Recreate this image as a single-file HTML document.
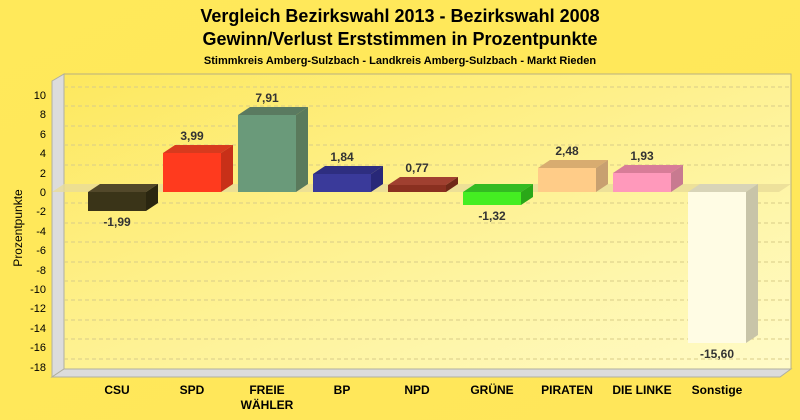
<!DOCTYPE html>
<html><head><meta charset="utf-8"><style>
body{margin:0;background:#ffe95a}
svg{display:block;font-family:"Liberation Sans",Arial,sans-serif}
</style></head><body>
<svg width="800" height="420" viewBox="0 0 800 420">
<defs>
<linearGradient id="bg" x1="0" y1="0" x2="1" y2="1">
<stop offset="0" stop-color="#ffe95a"/><stop offset="1" stop-color="#ffe65a"/></linearGradient>
<linearGradient id="wall" x1="0" y1="0" x2="1" y2="1">
<stop offset="0" stop-color="#fde85e"/><stop offset="1" stop-color="#fffbc8"/></linearGradient>
</defs>
<rect width="800" height="420" fill="url(#bg)"/>
<text x="400" y="22" text-anchor="middle" font-size="18" font-weight="bold">Vergleich Bezirkswahl 2013 - Bezirkswahl 2008</text>
<text x="400" y="45" text-anchor="middle" font-size="18" font-weight="bold">Gewinn/Verlust Erststimmen in Prozentpunkte</text>
<text x="400" y="64" text-anchor="middle" font-size="11" font-weight="bold">Stimmkreis Amberg-Sulzbach - Landkreis Amberg-Sulzbach - Markt Rieden</text>
<rect x="64" y="74" width="727" height="295" fill="url(#wall)" stroke="#b8b080" stroke-width="1"/>
<polygon points="52,81 64,74 64,369 52,377" fill="#dcdcdc" stroke="#b0b0a0"/>
<polygon points="52,377 780,377 791,369 64,369" fill="#dcdcdc" stroke="#b0b0a0"/>
<g stroke="#d8cc88" stroke-dasharray="4,3" stroke-width="1">
<line x1="64" y1="87" x2="791" y2="87"/><line x1="64" y1="106" x2="791" y2="106"/>
<line x1="64" y1="126" x2="791" y2="126"/><line x1="64" y1="145" x2="791" y2="145"/>
<line x1="64" y1="165" x2="791" y2="165"/>
<line x1="64" y1="203" x2="791" y2="203"/><line x1="64" y1="223" x2="791" y2="223"/>
<line x1="64" y1="242" x2="791" y2="242"/><line x1="64" y1="262" x2="791" y2="262"/>
<line x1="64" y1="281" x2="791" y2="281"/><line x1="64" y1="300" x2="791" y2="300"/>
<line x1="64" y1="320" x2="791" y2="320"/><line x1="64" y1="339" x2="791" y2="339"/>
<line x1="64" y1="359" x2="791" y2="359"/>
</g>
<polygon points="52,192 64,184 791,184 779,192" fill="#e8dc98" opacity="0.8"/>
<g font-size="11" text-anchor="end">
<text x="46" y="99">10</text><text x="46" y="118">8</text><text x="46" y="138">6</text>
<text x="46" y="157">4</text><text x="46" y="177">2</text><text x="46" y="196">0</text>
<text x="46" y="215">-2</text><text x="46" y="235">-4</text><text x="46" y="254">-6</text>
<text x="46" y="274">-8</text><text x="46" y="293">-10</text><text x="46" y="312">-12</text>
<text x="46" y="332">-14</text><text x="46" y="351">-16</text><text x="46" y="371">-18</text>
</g>
<text transform="translate(22,228) rotate(-90)" text-anchor="middle" font-size="12">Prozentpunkte</text>
<!-- bars: x, top, bottom, color -->
<g stroke-width="0.5">
<!-- CSU -->
<polygon points="88,192 100,184 158,184 146,192" fill="#52482a"/>
<polygon points="146,192 158,184 158,203 146,211" fill="#2a2610"/>
<rect x="88" y="192" width="58" height="19" fill="#3a3418"/>
<!-- SPD -->
<polygon points="163,153 175,145 233,145 221,153" fill="#d83a1e"/>
<polygon points="221,153 233,145 233,184 221,192" fill="#c83018"/>
<rect x="163" y="153" width="58" height="39" fill="#ff3a1e"/>
<!-- FREIE -->
<polygon points="238,115 250,107 308,107 296,115" fill="#5a7a60"/>
<polygon points="296,115 308,107 308,184 296,192" fill="#5a7a5c"/>
<rect x="238" y="115" width="58" height="77" fill="#6a9a7a"/>
<!-- BP -->
<polygon points="313,174 325,166 383,166 371,174" fill="#2e2e80"/>
<polygon points="371,174 383,166 383,184 371,192" fill="#282878"/>
<rect x="313" y="174" width="58" height="18" fill="#3a3a9a"/>
<!-- NPD -->
<polygon points="388,185 400,177 458,177 446,185" fill="#a04030"/>
<polygon points="446,185 458,177 458,184 446,192" fill="#702818"/>
<rect x="388" y="185" width="58" height="7" fill="#8a3020"/>
<!-- GRÜNE -->
<polygon points="463,192 475,184 533,184 521,192" fill="#33bb22"/>
<polygon points="521,192 533,184 533,197 521,205" fill="#2aa818"/>
<rect x="463" y="192" width="58" height="13" fill="#44ee22"/>
<!-- PIRATEN -->
<polygon points="538,168 550,160 608,160 596,168" fill="#d8ac70"/>
<polygon points="596,168 608,160 608,184 596,192" fill="#c8a070"/>
<rect x="538" y="168" width="58" height="24" fill="#ffcc88"/>
<!-- DIE LINKE -->
<polygon points="613,173 625,165 683,165 671,173" fill="#d87c98"/>
<polygon points="671,173 683,165 683,184 671,192" fill="#c87a90"/>
<rect x="613" y="173" width="58" height="19" fill="#ff99bb"/>
<!-- Sonstige -->
<polygon points="688,192 700,184 758,184 746,192" fill="#d8d4b8"/>
<polygon points="746,192 758,184 758,335 746,343" fill="#c8c4a8"/>
<rect x="688" y="192" width="58" height="151" fill="#fffce4"/>
</g>
<g font-size="12" font-weight="bold" fill="#333" text-anchor="middle">
<text x="117" y="226">-1,99</text>
<text x="192" y="140">3,99</text>
<text x="267" y="102">7,91</text>
<text x="342" y="161">1,84</text>
<text x="417" y="172">0,77</text>
<text x="492" y="220">-1,32</text>
<text x="567" y="155">2,48</text>
<text x="642" y="160">1,93</text>
<text x="717" y="358">-15,60</text>
</g>
<g font-size="12" font-weight="bold" text-anchor="middle">
<text x="117" y="394">CSU</text>
<text x="192" y="394">SPD</text>
<text x="267" y="394">FREIE</text>
<text x="267" y="409">WÄHLER</text>
<text x="342" y="394">BP</text>
<text x="417" y="394">NPD</text>
<text x="492" y="394">GRÜNE</text>
<text x="567" y="394">PIRATEN</text>
<text x="642" y="394">DIE LINKE</text>
<text x="717" y="394">Sonstige</text>
</g>
</svg>
</body></html>
